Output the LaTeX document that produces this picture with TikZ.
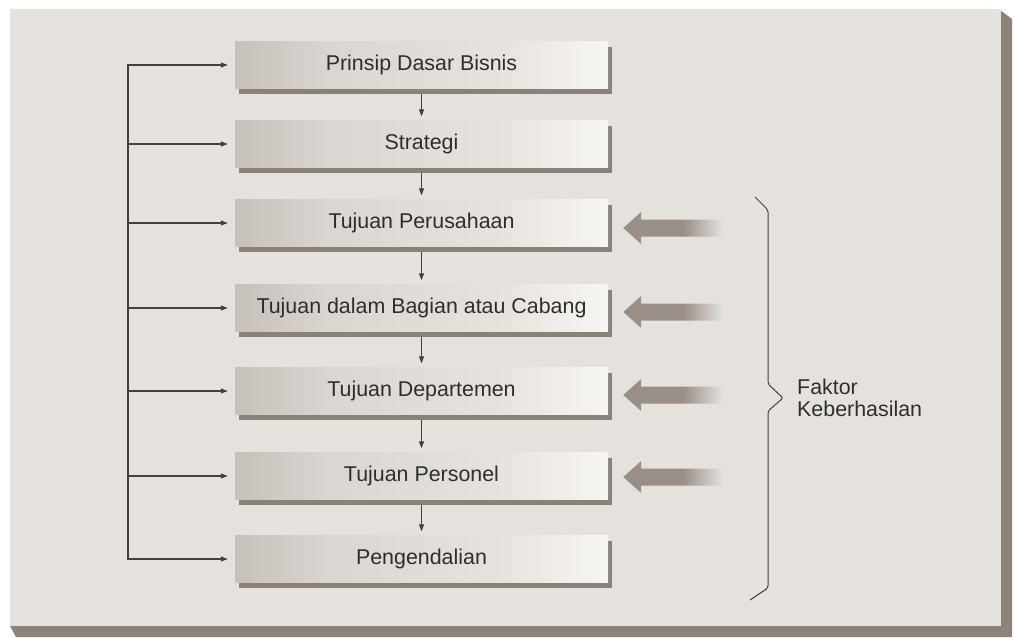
\documentclass[tikz,border=0pt]{standalone}
\usepackage{fontspec}
\setmainfont{Liberation Sans}
\usetikzlibrary{arrows.meta,shadows,calc}
\definecolor{panelbg}{HTML}{E5E2DE}
\definecolor{panelsh}{HTML}{8C837C}
\definecolor{boxL}{HTML}{C6C0BA}
\definecolor{boxM}{HTML}{DAD6D1}
\definecolor{boxR}{HTML}{F7F5F2}
\definecolor{boxsh}{HTML}{8A817A}
\definecolor{arrowc}{HTML}{9A8F88}
\definecolor{linec}{HTML}{404040}
\definecolor{textc}{HTML}{2E2E2E}
\pgfdeclarehorizontalshading{boxshade}{100bp}{color(0bp)=(boxL); color(25bp)=(boxL); color(38bp)=(boxM); color(60bp)=(boxM!60!boxR); color(75bp)=(boxR); color(100bp)=(boxR)}
\pgfdeclarehorizontalshading{fadearrow}{100bp}{color(0bp)=(arrowc); color(25bp)=(arrowc); color(55bp)=(arrowc); color(75bp)=(panelbg); color(100bp)=(panelbg)}
\tikzset{
  box/.style={shade, shading=boxshade, minimum width=373pt, minimum height=47pt,
    inner sep=0pt, text=textc, font=\fontsize{21.4}{24}\selectfont,
    drop shadow={shadow xshift=4pt, shadow yshift=-5pt, fill=boxsh, opacity=1}},
  line/.style={draw=linec, line width=1.1pt},
  arr/.style={line, -{Triangle[length=7pt,width=5pt]}},
  fat/.style={shading=fadearrow}
}
\begin{document}
\begin{tikzpicture}[x=1pt,y=-1pt]
\useasboundingbox (0,0) rectangle (1014,637);
\fill[white] (0,0) rectangle (1014,637);
% panel shadow and panel
\fill[panelsh] (1000,10) -- (1012,19) -- (1012,637) -- (16,637) -- (10,626) -- (1000,626) -- cycle;
\fill[panelbg] (10,9) rectangle (1001,626);

% boxes
\node[box] (b1) at (421.5,65) {Prinsip Dasar Bisnis};
\node[box] (b2) at (421.5,144) {Strategi};
\node[box] (b3) at (421.5,223) {Tujuan Perusahaan};
\node[box] (b4) at (421.5,308) {Tujuan dalam Bagian atau Cabang};
\node[box] (b5) at (421.5,391) {Tujuan Departemen};
\node[box] (b6) at (421.5,476) {Tujuan Personel};
\node[box] (b7) at (421.5,559) {Pengendalian};

% vertical arrows
\foreach \a/\b in {b1/b2,b2/b3,b3/b4,b4/b5,b5/b6,b6/b7}
  \draw[arr, shorten <=5pt, shorten >=4pt] (\a.south) -- (\b.north);

% feedback line
\coordinate (L) at (128,0);
\draw[arr, shorten >=7pt] (b7.west -| L) -- (b1.west -| L) -- (b1.west);
\draw[arr, shorten >=7pt] (b1.west -| L) |- (b7.west);
\foreach \b in {b2,b3,b4,b5,b6}
  \draw[arr, shorten >=7pt] (\b.west -| L) -- (\b.west);

% thick fading arrows
\foreach \b/\dy in {b3/5,b4/4,b5/4,b6/1}{
  \coordinate (t) at ($(\b.east)+(15,\dy)$);
  \shade[fat] (t) -- ++(18,-16) -- ++(0,7.5) -- ++(82,0) -- ++(0,17) -- ++(-82,0) -- ++(0,7.5) -- cycle;
}

% brace
\draw[line, line width=1pt, rounded corners=2pt] (755,197) -- (768,210) -- (768,384) -- (783,398) -- (768,411) -- (768,588) -- (750,600);
\node[anchor=west, align=left, text=textc, font=\fontsize{21.4}{22}\selectfont, inner sep=0pt] (fk) at (797,398) {Faktor\\Keberhasilan};
\end{tikzpicture}
\end{document}
